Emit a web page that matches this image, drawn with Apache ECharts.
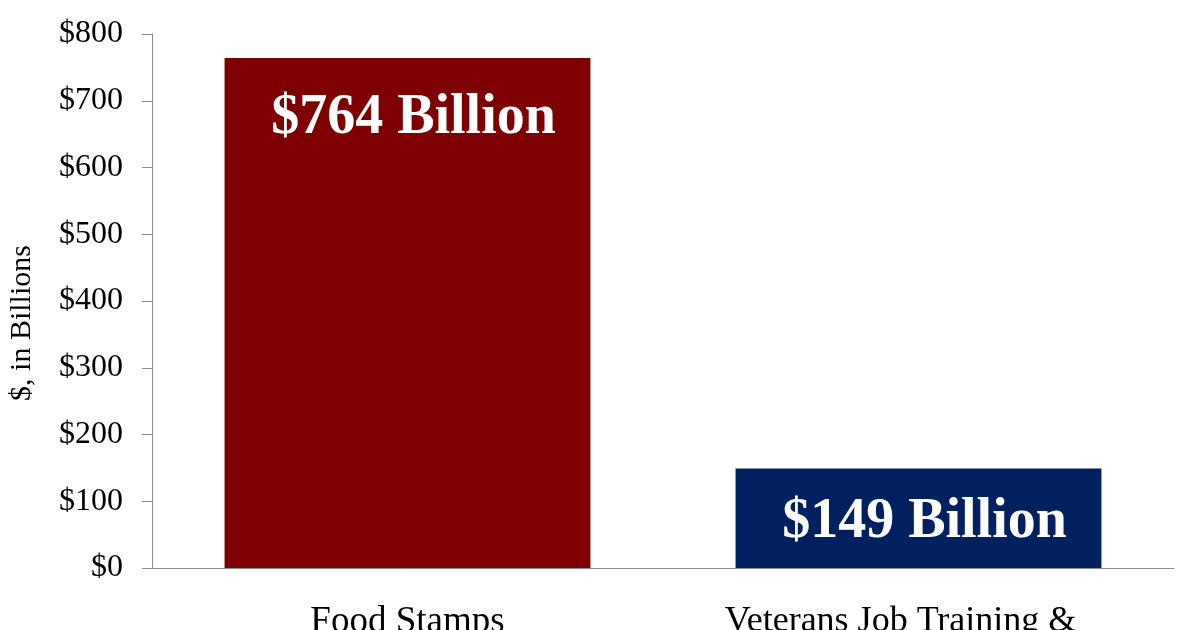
<!DOCTYPE html>
<html>
<head>
<meta charset="utf-8">
<title>Food Stamps vs Veterans Job Training</title>
<script src="https://cdn.jsdelivr.net/npm/echarts@6/dist/echarts.min.js"></script>
<style>
  html, body { margin: 0; padding: 0; background: #fff; }
  #chart { width: 1200px; height: 630px; }
</style>
</head>
<body>
<div id="chart"></div>
<script>
// 图表数据
var categories = ['Food Stamps', 'Veterans Job Training &'];
var spending = [764, 149];
var barLabels = ['$764 Billion', '$149 Billion'];
var barColors = ['#7f0000', '#002060'];
var labelPositions = ['insideTop', 'inside'];

var myChart = echarts.init(document.getElementById('chart'));

var serif = 'Liberation Serif, Times New Roman, serif';

// 每根柱子单独的颜色和标签
var barData = [];
for (let i = 0; i < spending.length; i++) {
    barData.push({
        value: spending[i],
        itemStyle: { color: barColors[i] },
        label: {
            position: labelPositions[i],
            distance: 29,
            offset: [6, 4],
            formatter: barLabels[i]
        }
    });
}

var option = {
    animation: false,
    backgroundColor: '#ffffff',
    grid: {
        left: 152, right: 26, top: 34, bottom: 62,
        containLabel: false,
        outerBoundsMode: 'none'
    },
    xAxis: {
        type: 'category',
        data: categories,
        axisLine: { lineStyle: { color: '#8c8c8c', width: 1 } },
        axisTick: { length: 10, lineStyle: { color: '#8c8c8c' } },
        axisLabel: {
            interval: 0,
            hideOverlap: false,
            margin: 36,
            fontFamily: serif,
            fontSize: 37,
            color: '#000',
            formatter: function (value, index) {
                return index === 1 ? '{b|' + value + '}' : '{a|' + value + '}';
            },
            rich: {
                a: { fontFamily: serif, fontSize: 37, color: '#000' },
                b: { fontFamily: serif, fontSize: 36, color: '#000', padding: [0, 36, 0, 0] }
            }
        }
    },
    yAxis: {
        type: 'value',
        min: 0,
        max: 800,
        interval: 100,
        splitLine: { show: false },
        axisLine: { show: true, lineStyle: { color: '#8c8c8c', width: 1 } },
        axisTick: { show: true, length: 10, lineStyle: { color: '#8c8c8c' } },
        axisLabel: {
            margin: 29,
            fontFamily: serif,
            fontSize: 32,
            color: '#000',
            formatter: '${value}'
        }
    },
    graphic: [{
        type: 'text',
        x: 22,
        y: 323,
        rotation: Math.PI / 2,
        style: {
            text: '$, in Billions',
            fontFamily: serif,
            fontSize: 30,
            fill: '#000',
            align: 'center',
            verticalAlign: 'middle'
        }
    }],
    series: [{
        type: 'bar',
        data: barData,
        barWidth: '71.6%',
        label: {
            show: true,
            color: '#fff',
            fontFamily: serif,
            fontWeight: 'bold',
            fontSize: 56
        }
    }]
};

myChart.setOption(option);
</script>
</body>
</html>
